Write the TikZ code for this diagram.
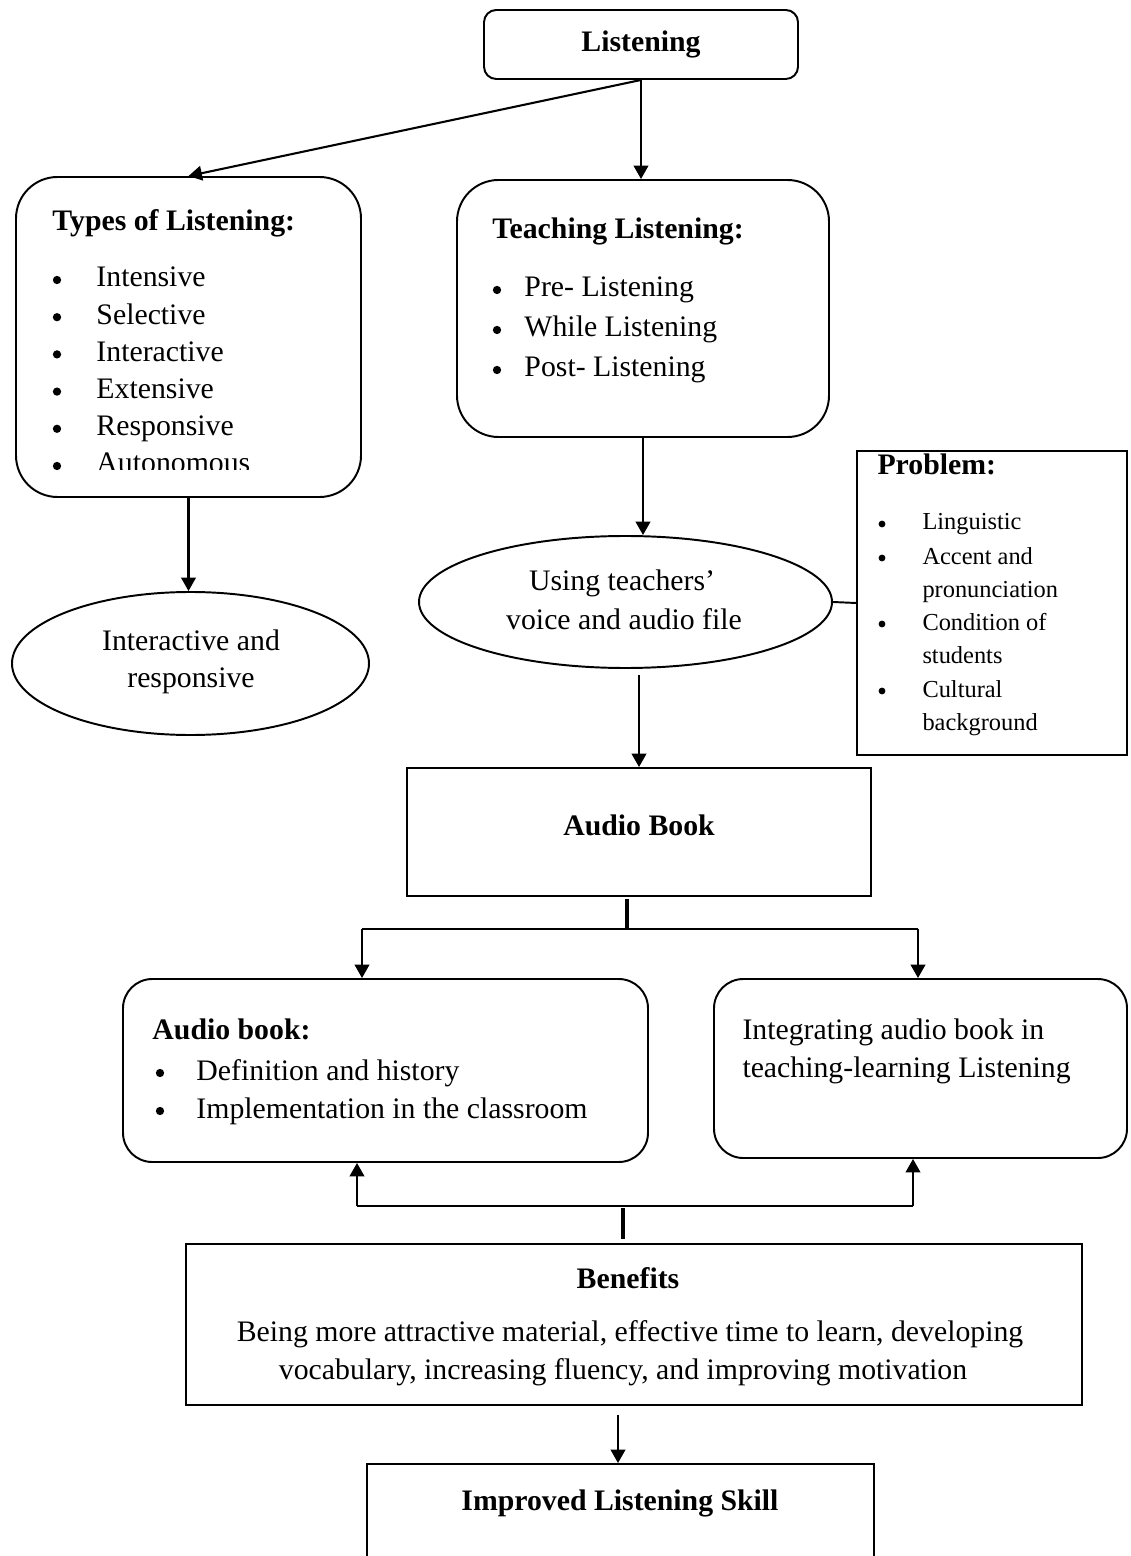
\documentclass[tikz,border=0pt]{standalone}
\usepackage{fontspec}
\setmainfont{Liberation Serif}
\usetikzlibrary{arrows.meta,shapes.geometric,fit}
\newdimen\pxu \pxu=0.4098pt
\tikzset{
 box/.style={draw, line width=0.8pt, inner sep=0pt},
 rbox/.style={box, rounded corners=#1},
 oval/.style={draw, ellipse, line width=0.8pt, inner sep=0pt},
 arr/.style={line width=0.85pt, -{Triangle[length=5.5pt,width=6pt]}},
 conn/.style={line width=0.6pt},
 stub/.style={line width=1.5pt},
 txt/.style={anchor=base west, inner sep=0pt, font=\fontsize{12.2}{14}\selectfont},
 ctxt/.style={anchor=base, inner sep=0pt, font=\fontsize{12.2}{14}\selectfont},
 btxt/.style={anchor=base west, inner sep=0pt, font=\fontsize{12.2}{14}\selectfont\bfseries},
 bctxt/.style={anchor=base, inner sep=0pt, font=\fontsize{12.2}{14}\selectfont\bfseries},
 stxt/.style={anchor=base west, inner sep=0pt, font=\fontsize{10}{12}\selectfont},
 bul/.style={circle, fill, inner sep=0pt, minimum size=3.4pt},
 sbul/.style={circle, fill, inner sep=0pt, minimum size=2.8pt},
}
\begin{document}
\begin{tikzpicture}[x=0.4098pt, y=-0.4098pt]
\useasboundingbox (0,0) rectangle (1130,1556);
\clip (0,0) rectangle (1130,1556);

% ---- boxes
\node[rbox=5pt, fit={(484,10) (798,79)}] (listen) {};
\node[bctxt] (listenT) at (641,52) {Listening};

\node[rbox=17pt, fit={(16,177) (361,497)}] (types) {};
\node[rbox=17pt, fit={(457,180) (829,437)}] (teach) {};
\node[oval, minimum width=357\pxu, minimum height=143\pxu] (ellI) at (190.5,663.5) {};
\node[oval, minimum width=413\pxu, minimum height=132\pxu] (ellU) at (625.5,602) {};
\node[box, fit={(857,451) (1127,755)}] (prob) {};
\node[box, fit={(407,768) (871,896)}] (audio) {};
\node[rbox=12pt, fit={(123,979) (648,1162)}] (abk) {};
\node[rbox=12pt, fit={(714,979) (1127,1158)}] (integ) {};
\node[box, fit={(186,1244) (1082,1405)}] (bene) {};
\node[box, fit={(367,1464) (874,1600)}] (impr) {};

% ---- texts: Types of Listening
\node[btxt] (typesT) at (52,231) {Types of Listening:};
\foreach \t/\y [count=\i] in {Intensive/287,Selective/324.2,Interactive/361.4,Extensive/398.6,Responsive/435.8}{
  \node[bul] (tyb\i) at (57,\y-7) {};
  \node[txt] (ty\i) at (96,\y) {\t};
}
\node[bul] (tyb6) at (57,466) {};
\begin{scope}
\clip (16,177) rectangle (361,470);
\node[txt] (ty6) at (96,473) {Autonomous};
\end{scope}

% Teaching Listening
\node[btxt] (teachT) at (492,239) {Teaching Listening:};
\foreach \t/\y [count=\i] in {Pre- Listening/297,While Listening/337,Post- Listening/377}{
  \node[bul] (teb\i) at (497,\y-7) {};
  \node[txt] (te\i) at (524,\y) {\t};
}

% ellipses text
\node[ctxt] (ellIa) at (191,650) {Interactive and};
\node[ctxt] (ellIb) at (191,687) {responsive};
\node[ctxt] (ellUa) at (622,591) {Using teachers’};
\node[ctxt] (ellUb) at (624,629) {voice and audio file};

% Problem
\node[btxt] (probT) at (877,475) {Problem:};
\foreach \y [count=\i] in {530,564,630,697}{
  \node[sbul] (prb\i) at (882,\y-6) {};
}
\foreach \t/\y [count=\i] in {Linguistic/530,Accent and/564,pronunciation/597,Condition of/630,students/663,Cultural/697,background/730}{
  \node[stxt] (pr\i) at (922,\y) {\t};
}

% Audio Book
\node[bctxt] (audioT) at (639,835) {Audio Book};

\node[btxt] (abkT) at (152,1039) {Audio book:};
\node[bul] (abb1) at (160,1073) {};
\node[txt] (abk1) at (196,1080) {Definition and history};
\node[bul] (abb2) at (160,1111) {};
\node[txt] (abk2) at (196,1118) {Implementation in the classroom};

\node[txt] (integ1) at (742,1039) {Integrating audio book in};
\node[txt] (integ2) at (742,1077) {teaching-learning Listening};

% Benefits
\node[bctxt] (beneT) at (628,1288) {Benefits};
\node[ctxt] (bene1) at (630,1341) {Being more attractive material, effective time to learn, developing};
\node[ctxt] (bene2) at (623,1379) {vocabulary, increasing fluency, and improving motivation};

\node[bctxt] (imprT) at (620,1510) {Improved Listening Skill};

% ---- connectors
\draw[arr] (listen.south) -- (types.north);
\draw[arr] (listen.south) -- (listen.south |- teach.north);
\draw[arr] (types.south) -- (types.south |- ellI.north);
\draw[arr] (teach.south) -- (teach.south |- ellU.north);
\draw[line width=0.8pt] (ellU.east) -- (prob.west);
\coordinate (uS) at (639,675);
\draw[arr] (uS) -- (uS |- audio.north);

\coordinate (sTop) at (627,899);
\coordinate (sMid) at (627,929);
\coordinate (sL) at (362,929);
\coordinate (sR) at (918,929);
\draw[stub] (sTop) -- (sMid);
\draw[conn] (sL) -- (sR);
\draw[arr] (sL) -- (sL |- abk.north);
\draw[arr] (sR) -- (sR |- integ.north);

\coordinate (mL) at (357,1206);
\coordinate (mR) at (913,1206);
\coordinate (mMid) at (623,1208);
\coordinate (mBot) at (623,1239);
\draw[conn] (mL) -- (mR);
\draw[arr] (mL) -- (mL |- abk.south);
\draw[arr] (mR) -- (mR |- integ.south);
\draw[stub] (mMid) -- (mBot);

\coordinate (bS) at (618,1415);
\draw[arr] (bS) -- (bS |- impr.north);
\end{tikzpicture}
\end{document}
